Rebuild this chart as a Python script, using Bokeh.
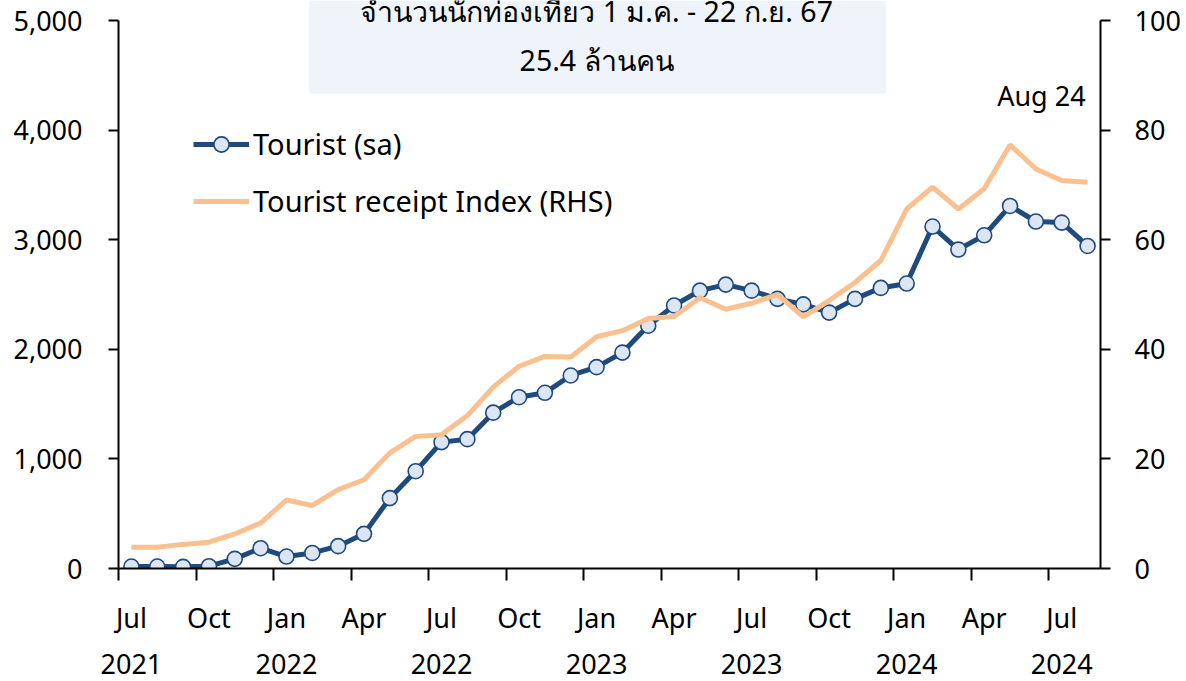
from bokeh.plotting import figure
from bokeh.models import (Range1d, LinearAxis, FixedTicker, NumeralTickFormatter,
                          Legend, LegendItem, BoxAnnotation, Label)
from bokeh.embed import file_html
from bokeh.resources import INLINE

# ---- data (monthly, Jul 2021 .. Aug 2024) ----
month_index = list(range(38))
tourist_sa = [18, 18, 15, 21, 88, 185, 109, 142, 204, 316, 642, 888,
              1153, 1180, 1422, 1563, 1603, 1761, 1837, 1970, 2215, 2400, 2535, 2590,
              2535, 2460, 2410, 2335, 2460, 2560, 2600, 3120, 2910, 3040, 3308, 3166,
              3156, 2943]
receipt_index = [3.9, 3.9, 4.4, 4.8, 6.3, 8.3, 12.5, 11.5, 14.4, 16.2, 21.1, 24.1,
                 24.4, 27.9, 33.1, 36.9, 38.7, 38.6, 42.3, 43.4, 45.6, 46.0, 49.4, 47.3,
                 48.4, 50.0, 45.9, 48.9, 52.2, 56.2, 65.6, 69.6, 65.6, 69.3, 77.3, 72.9,
                 70.8, 70.5]

month_ticks = [0, 3, 6, 9, 12, 15, 18, 21, 24, 27, 30, 33, 36]
month_tick_labels = ["Jul", "Oct", "Jan", "Apr", "Jul", "Oct", "Jan", "Apr",
                     "Jul", "Oct", "Jan", "Apr", "Jul"]
year_ticks = [0, 6, 12, 18, 24, 30, 36]
year_tick_labels = ["2021", "2022", "2022", "2023", "2023", "2024", "2024"]
boundary_ticks = [t - 0.5 for t in month_ticks]

left_ticks = [0, 1000, 2000, 3000, 4000, 5000]
right_ticks = [0, 20, 40, 60, 80, 100]

title_line1 = "จำนวนนักท่องเที่ยว 1 ม.ค. - 22 ก.ย. 67"
title_line2 = "25.4 ล้านคน"
last_label = "Aug 24"

FONT = "Noto Sans"
BLUE = "#1F4A7E"
ORANGE = "#FAC08F"
FS = "27px"

W, H = 1183, 678
FRAME_L, FRAME_R, FRAME_B = 118, 1101, 568
PX_PER_UNIT = 548 / 5000.0
YTOP = FRAME_B / PX_PER_UNIT


def y_at(px_from_top):
    return (FRAME_B - px_from_top) / PX_PER_UNIT


p = figure(width=W, height=H, output_backend="svg", toolbar_location=None,
           x_range=Range1d(-0.5, 37.5), y_range=Range1d(0, YTOP),
           min_border_left=FRAME_L, min_border_right=W - FRAME_R, min_border_top=0,
           min_border_bottom=H - FRAME_B)
p.extra_y_ranges = {"rhs": Range1d(0, 100 * YTOP / 5000)}
p.grid.visible = False
p.outline_line_color = None
p.background_fill_color = "white"
p.border_fill_color = "white"

# title box
p.add_layout(BoxAnnotation(left=6.88, right=29.2, bottom=y_at(93),
                           fill_color="#EFF4FA", fill_alpha=1.0, line_color=None,
                           level="underlay"))

# series
blue_line = p.line(month_index, tourist_sa, line_color=BLUE, line_width=5)
blue_pts = p.scatter(month_index, tourist_sa, size=15, fill_color="#DCE6F2",
                     line_color=BLUE, line_width=1.6)
orange_line = p.line(month_index, receipt_index, line_color=ORANGE, line_width=5,
                     y_range_name="rhs")

# x axis: boundary ticks (minor) + month labels (major)
xa = p.xaxis[0]
xa.ticker = FixedTicker(ticks=month_ticks, minor_ticks=boundary_ticks)
xa.major_label_overrides = {t: l for t, l in zip(month_ticks, month_tick_labels)}
xa.major_tick_line_color = None
xa.major_tick_out = 0
xa.major_tick_in = 0
xa.minor_tick_out = 12
xa.minor_tick_in = 0
xa.minor_tick_line_color = "black"
xa.minor_tick_line_width = 2
xa.axis_line_color = "black"
xa.axis_line_width = 2
xa.major_label_standoff = 18
xa.major_label_text_font = FONT
xa.major_label_text_font_size = FS
xa.major_label_text_color = "black"

# year labels: second axis stacked below the month labels
ya = LinearAxis(ticker=FixedTicker(ticks=year_ticks, minor_ticks=[]))
ya.major_label_overrides = {t: l for t, l in zip(year_ticks, year_tick_labels)}
ya.axis_line_color = None
ya.major_tick_line_color = None
ya.minor_tick_line_color = None
ya.major_tick_out = 0
ya.major_tick_in = 0
ya.minor_tick_out = 0
ya.minor_tick_in = 0
ya.major_label_standoff = 15
ya.major_label_text_font = FONT
ya.major_label_text_font_size = FS
ya.major_label_text_color = "black"
p.add_layout(ya, "below")

la = p.yaxis[0]
la.ticker = FixedTicker(ticks=left_ticks)
la.bounds = (0, 5000)
la.formatter = NumeralTickFormatter(format="0,0")
la.major_tick_out = 10
la.major_tick_in = 0
la.minor_tick_line_color = None
la.axis_line_width = 2
la.major_tick_line_width = 2
la.axis_line_color = "black"
la.major_tick_line_color = "black"
la.major_label_standoff = 26
la.major_label_text_font = FONT
la.major_label_text_font_size = FS
la.major_label_text_color = "black"

ra = LinearAxis(y_range_name="rhs", ticker=FixedTicker(ticks=right_ticks))
ra.bounds = (0, 100)
ra.major_tick_out = 10
ra.major_tick_in = 0
ra.minor_tick_line_color = None
ra.axis_line_width = 2
ra.major_tick_line_width = 2
ra.axis_line_color = "black"
ra.major_tick_line_color = "black"
ra.major_label_standoff = 24
ra.major_label_text_font = FONT
ra.major_label_text_font_size = FS
ra.major_label_text_color = "black"
p.add_layout(ra, "right")

# legend
legend = Legend(items=[LegendItem(label="Tourist (sa)", renderers=[blue_line, blue_pts]),
                       LegendItem(label="Tourist receipt Index (RHS)", renderers=[orange_line])],
                location=(75, 348), glyph_width=56, glyph_height=38, label_standoff=4,
                spacing=18, padding=0, margin=0, border_line_color=None,
                background_fill_alpha=0, label_text_font=FONT,
                label_text_font_size="29px", label_text_color="black")
p.add_layout(legend)

# annotations
p.add_layout(Label(x=18, y=y_at(10), text=title_line1, text_align="center",
                   text_baseline="alphabetic", text_font=FONT, text_font_size="28.5px",
                   text_color="black"))
p.add_layout(Label(x=18, y=y_at(59), text=title_line2, text_align="center",
                   text_baseline="alphabetic", text_font=FONT, text_font_size="28.5px",
                   text_color="black"))
p.add_layout(Label(x=month_index[-1], y=y_at(95), text=last_label,
                   text_align="right", text_baseline="alphabetic", x_offset=-2,
                   text_font=FONT, text_font_size=FS, text_color="black"))

open("out.html", "w").write(file_html(p, INLINE))
